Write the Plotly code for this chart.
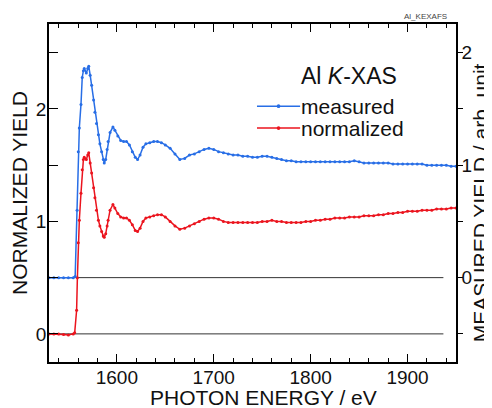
import plotly.graph_objects as go

# ---------------- data ----------------
meas_energy = [1530, 1535, 1540, 1545, 1550, 1555, 1557, 1559, 1560.2, 1561.3, 1563, 1564.3,
               1565.5, 1566.4, 1568.5, 1570, 1571, 1572.5, 1574, 1576, 1577.4, 1579, 1581,
               1582.5, 1584.3, 1586, 1587, 1588.5, 1590, 1591, 1593, 1596, 1598, 1601, 1604,
               1607, 1610, 1613, 1616, 1619, 1621.4, 1624, 1627, 1630, 1634, 1638, 1642, 1646,
               1650, 1655, 1660, 1665, 1670, 1675, 1680, 1685, 1690, 1695,
               1700, 1705, 1710, 1715, 1720, 1725, 1730, 1735, 1740, 1745, 1750, 1755, 1760,
               1765, 1770, 1775, 1780, 1785, 1790, 1795, 1800, 1805, 1810, 1815, 1820, 1825,
               1830, 1835, 1840, 1845, 1850, 1855, 1860, 1865, 1870, 1875, 1880, 1885, 1890,
               1895, 1900, 1905, 1910, 1915, 1920, 1925, 1930, 1935, 1940, 1945, 1950]
meas_yield = [0.00, 0.00, 0.00, 0.00, 0.00, 0.00, 0.01, 0.60, 1.12, 1.33, 1.54, 1.78,
              1.84, 1.86, 1.82, 1.86, 1.88, 1.80, 1.71, 1.58, 1.47, 1.37, 1.27,
              1.19, 1.12, 1.05, 1.02, 1.05, 1.14, 1.21, 1.29, 1.34, 1.31, 1.26, 1.22,
              1.21, 1.21, 1.18, 1.12, 1.07, 1.05, 1.09, 1.16, 1.19, 1.20, 1.21, 1.21, 1.20,
              1.18, 1.15, 1.10, 1.05, 1.06, 1.09, 1.10, 1.12, 1.14, 1.15,
              1.14, 1.12, 1.11, 1.10, 1.09, 1.09, 1.08, 1.08, 1.07, 1.07, 1.08, 1.08, 1.07,
              1.06, 1.05, 1.04, 1.04, 1.03, 1.03, 1.03, 1.03, 1.03, 1.03, 1.03, 1.03, 1.03,
              1.03, 1.03, 1.03, 1.04, 1.03, 1.02, 1.02, 1.02, 1.02, 1.02, 1.02, 1.01, 1.01,
              1.01, 1.01, 1.01, 1.01, 1.01, 1.00, 1.00, 1.00, 1.00, 1.00, 0.99, 0.99]

norm_energy = [1530, 1535, 1540, 1545, 1550, 1555, 1556.5, 1558.5, 1559.3, 1560.2, 1561.3, 1563,
               1564.3, 1565.5, 1566.4, 1568.5, 1570, 1571, 1572.5, 1574, 1576, 1577.4, 1579,
               1581, 1582.5, 1584.3, 1586, 1587, 1588.5, 1590, 1591, 1593, 1596, 1598, 1601,
               1604, 1607, 1610, 1613, 1616, 1619, 1621.4, 1624, 1627, 1630, 1634, 1638, 1642,
               1646, 1650, 1655, 1660, 1665, 1670, 1675, 1680, 1685, 1690, 1695,
               1700, 1705, 1710, 1715, 1720, 1725, 1730, 1735, 1740, 1745, 1750, 1755, 1760,
               1765, 1770, 1775, 1780, 1785, 1790, 1795, 1800, 1805, 1810, 1815, 1820, 1825,
               1830, 1835, 1840, 1845, 1850, 1855, 1860, 1865, 1870, 1875, 1880, 1885, 1890,
               1895, 1900, 1905, 1910, 1915, 1920, 1925, 1930, 1935, 1940, 1945, 1950]
norm_yield = [0.00, 0.00, 0.00, -0.005, -0.01, 0.00, 0.01, 0.21, 0.50, 0.81, 1.01, 1.25,
              1.46, 1.55, 1.57, 1.55, 1.59, 1.61, 1.52, 1.43, 1.30, 1.21, 1.10,
              1.01, 0.96, 0.91, 0.87, 0.86, 0.89, 0.96, 1.01, 1.10, 1.15, 1.12, 1.07,
              1.04, 1.03, 1.03, 1.01, 0.97, 0.92, 0.91, 0.94, 1.00, 1.03, 1.04, 1.05, 1.06,
              1.06, 1.04, 1.00, 0.96, 0.93, 0.94, 0.96, 0.98, 1.00, 1.02, 1.03,
              1.03, 1.02, 1.00, 0.99, 0.99, 0.99, 0.99, 0.99, 0.99, 0.99, 1.00, 1.00, 1.01,
              1.00, 1.00, 0.99, 0.99, 0.99, 0.99, 1.00, 1.00, 1.01, 1.01, 1.02, 1.02, 1.03,
              1.03, 1.03, 1.04, 1.04, 1.04, 1.05, 1.05, 1.05, 1.06, 1.06, 1.07, 1.07, 1.08,
              1.08, 1.09, 1.09, 1.09, 1.10, 1.10, 1.10, 1.11, 1.11, 1.11, 1.12, 1.12]

series_names = ["measured", "normalized"]
baselines = [0, 0.5]            # on the normalized (left) axis
baseline_span = [1530, 1937]
x_range = [1530, 1950]
left_range = [-0.25, 2.755]
right_offset = 0.5              # right axis = left axis - 0.5
left_ticks = [0, 0.5, 1, 1.5, 2, 2.5]
left_ticktext = ["0", "", "1", "", "2", ""]
right_ticks = [-0.5, 0, 0.5, 1, 1.5, 2]
right_ticktext = ["", "0", "", "1", "", "2"]

BLUE = "rgb(40,110,230)"
RED = "rgb(235,20,30)"
COLORS = [BLUE, RED]
FONT = "Liberation Sans, Arial, sans-serif"
TXT = "#111111"

fig = go.Figure()
fig.add_trace(go.Scatter(x=meas_energy, y=meas_yield, yaxis="y2", name=series_names[0],
                         mode="lines+markers", line=dict(color=BLUE, width=1.5),
                         marker=dict(size=3, color=BLUE), showlegend=False))
fig.add_trace(go.Scatter(x=norm_energy, y=norm_yield, yaxis="y", name=series_names[1],
                         mode="lines+markers", line=dict(color=RED, width=1.5),
                         marker=dict(size=3, color=RED), showlegend=False))

for b in baselines:
    fig.add_shape(type="line", xref="x", yref="y", x0=baseline_span[0], x1=baseline_span[1],
                  y0=b, y1=b, line=dict(color="#333333", width=1), layer="below")

# manual legend (line with a dot + label)
leg_x0, leg_x1, leg_text_x = 0.511, 0.617, 0.615
leg_rows = [0.757, 0.692]
for name, col, ly in zip(series_names, COLORS, leg_rows):
    fig.add_shape(type="line", xref="paper", yref="paper", x0=leg_x0, x1=leg_x1, y0=ly, y1=ly,
                  line=dict(color=col, width=1.5))
    xm = (leg_x0 + leg_x1) / 2
    fig.add_shape(type="circle", xref="paper", yref="paper", x0=xm - 0.0045, x1=xm + 0.0045,
                  y0=ly - 0.0055, y1=ly + 0.0055, fillcolor=col, line=dict(color=col, width=0))
    fig.add_annotation(text=name, xref="paper", yref="paper", x=leg_text_x, y=ly,
                       xanchor="left", yanchor="middle", showarrow=False,
                       font=dict(size=21, family=FONT, color=TXT))

fig.add_annotation(text="Al <i>K</i>-XAS", xref="paper", yref="paper", x=0.737, y=0.846,
                   xanchor="center", yanchor="middle", showarrow=False,
                   font=dict(size=23, family=FONT, color=TXT))
fig.add_annotation(text="Al_KEXAFS", xref="paper", yref="paper", x=0.924, y=1.021,
                   xanchor="center", yanchor="middle", showarrow=False,
                   font=dict(size=8, family=FONT, color="#444444"))

# axis titles
fig.add_annotation(text="PHOTON ENERGY / eV", xref="paper", yref="paper", x=0.526, y=-0.1065,
                   xanchor="center", yanchor="middle", showarrow=False,
                   font=dict(size=21, family=FONT, color=TXT))
fig.add_annotation(text="NORMALIZED YIELD", xref="paper", yref="paper", x=-0.074, y=0.5,
                   xanchor="center", yanchor="middle", showarrow=False, textangle=-90,
                   font=dict(size=21, family=FONT, color=TXT))
fig.add_annotation(text="MEASURED YIELD / arb. unit", xref="paper", yref="paper", x=1.059,
                   y=0.47, xanchor="center", yanchor="middle", showarrow=False, textangle=-90,
                   font=dict(size=21, family=FONT, color=TXT))

fig.update_layout(
    width=484, height=400,
    margin=dict(l=41, r=36, t=16, b=46),
    paper_bgcolor="white", plot_bgcolor="white",
    font=dict(family=FONT, size=19, color=TXT),
    showlegend=False,
    xaxis=dict(range=x_range, showline=True, linecolor="black", linewidth=1.5,
               mirror="ticks", ticks="inside", ticklen=8, tickwidth=1.2, tickcolor="black",
               dtick=100, tick0=1600, showgrid=False, zeroline=False, ticklabelstandoff=-3,
               minor=dict(dtick=20, ticks="inside", ticklen=4, tickwidth=1.2, tickcolor="black"),
               automargin=False),
    yaxis=dict(range=left_range, showline=True, linecolor="black", linewidth=1.5,
               ticks="inside", ticklen=9, tickwidth=1.2, tickcolor="black",
               tickvals=left_ticks, ticktext=left_ticktext, ticklabelstandoff=-3,
               showgrid=False, zeroline=False, automargin=False),
    yaxis2=dict(range=[left_range[0] - right_offset, left_range[1] - right_offset],
                overlaying="y", side="right", showline=True, linecolor="black", linewidth=1.5,
                ticks="outside", ticklen=5, tickwidth=1.2, tickcolor="black",
                tickvals=right_ticks, ticktext=right_ticktext, ticklabelstandoff=-5,
                showgrid=False, zeroline=False, automargin=False),
)

fig.write_html("out.html")
